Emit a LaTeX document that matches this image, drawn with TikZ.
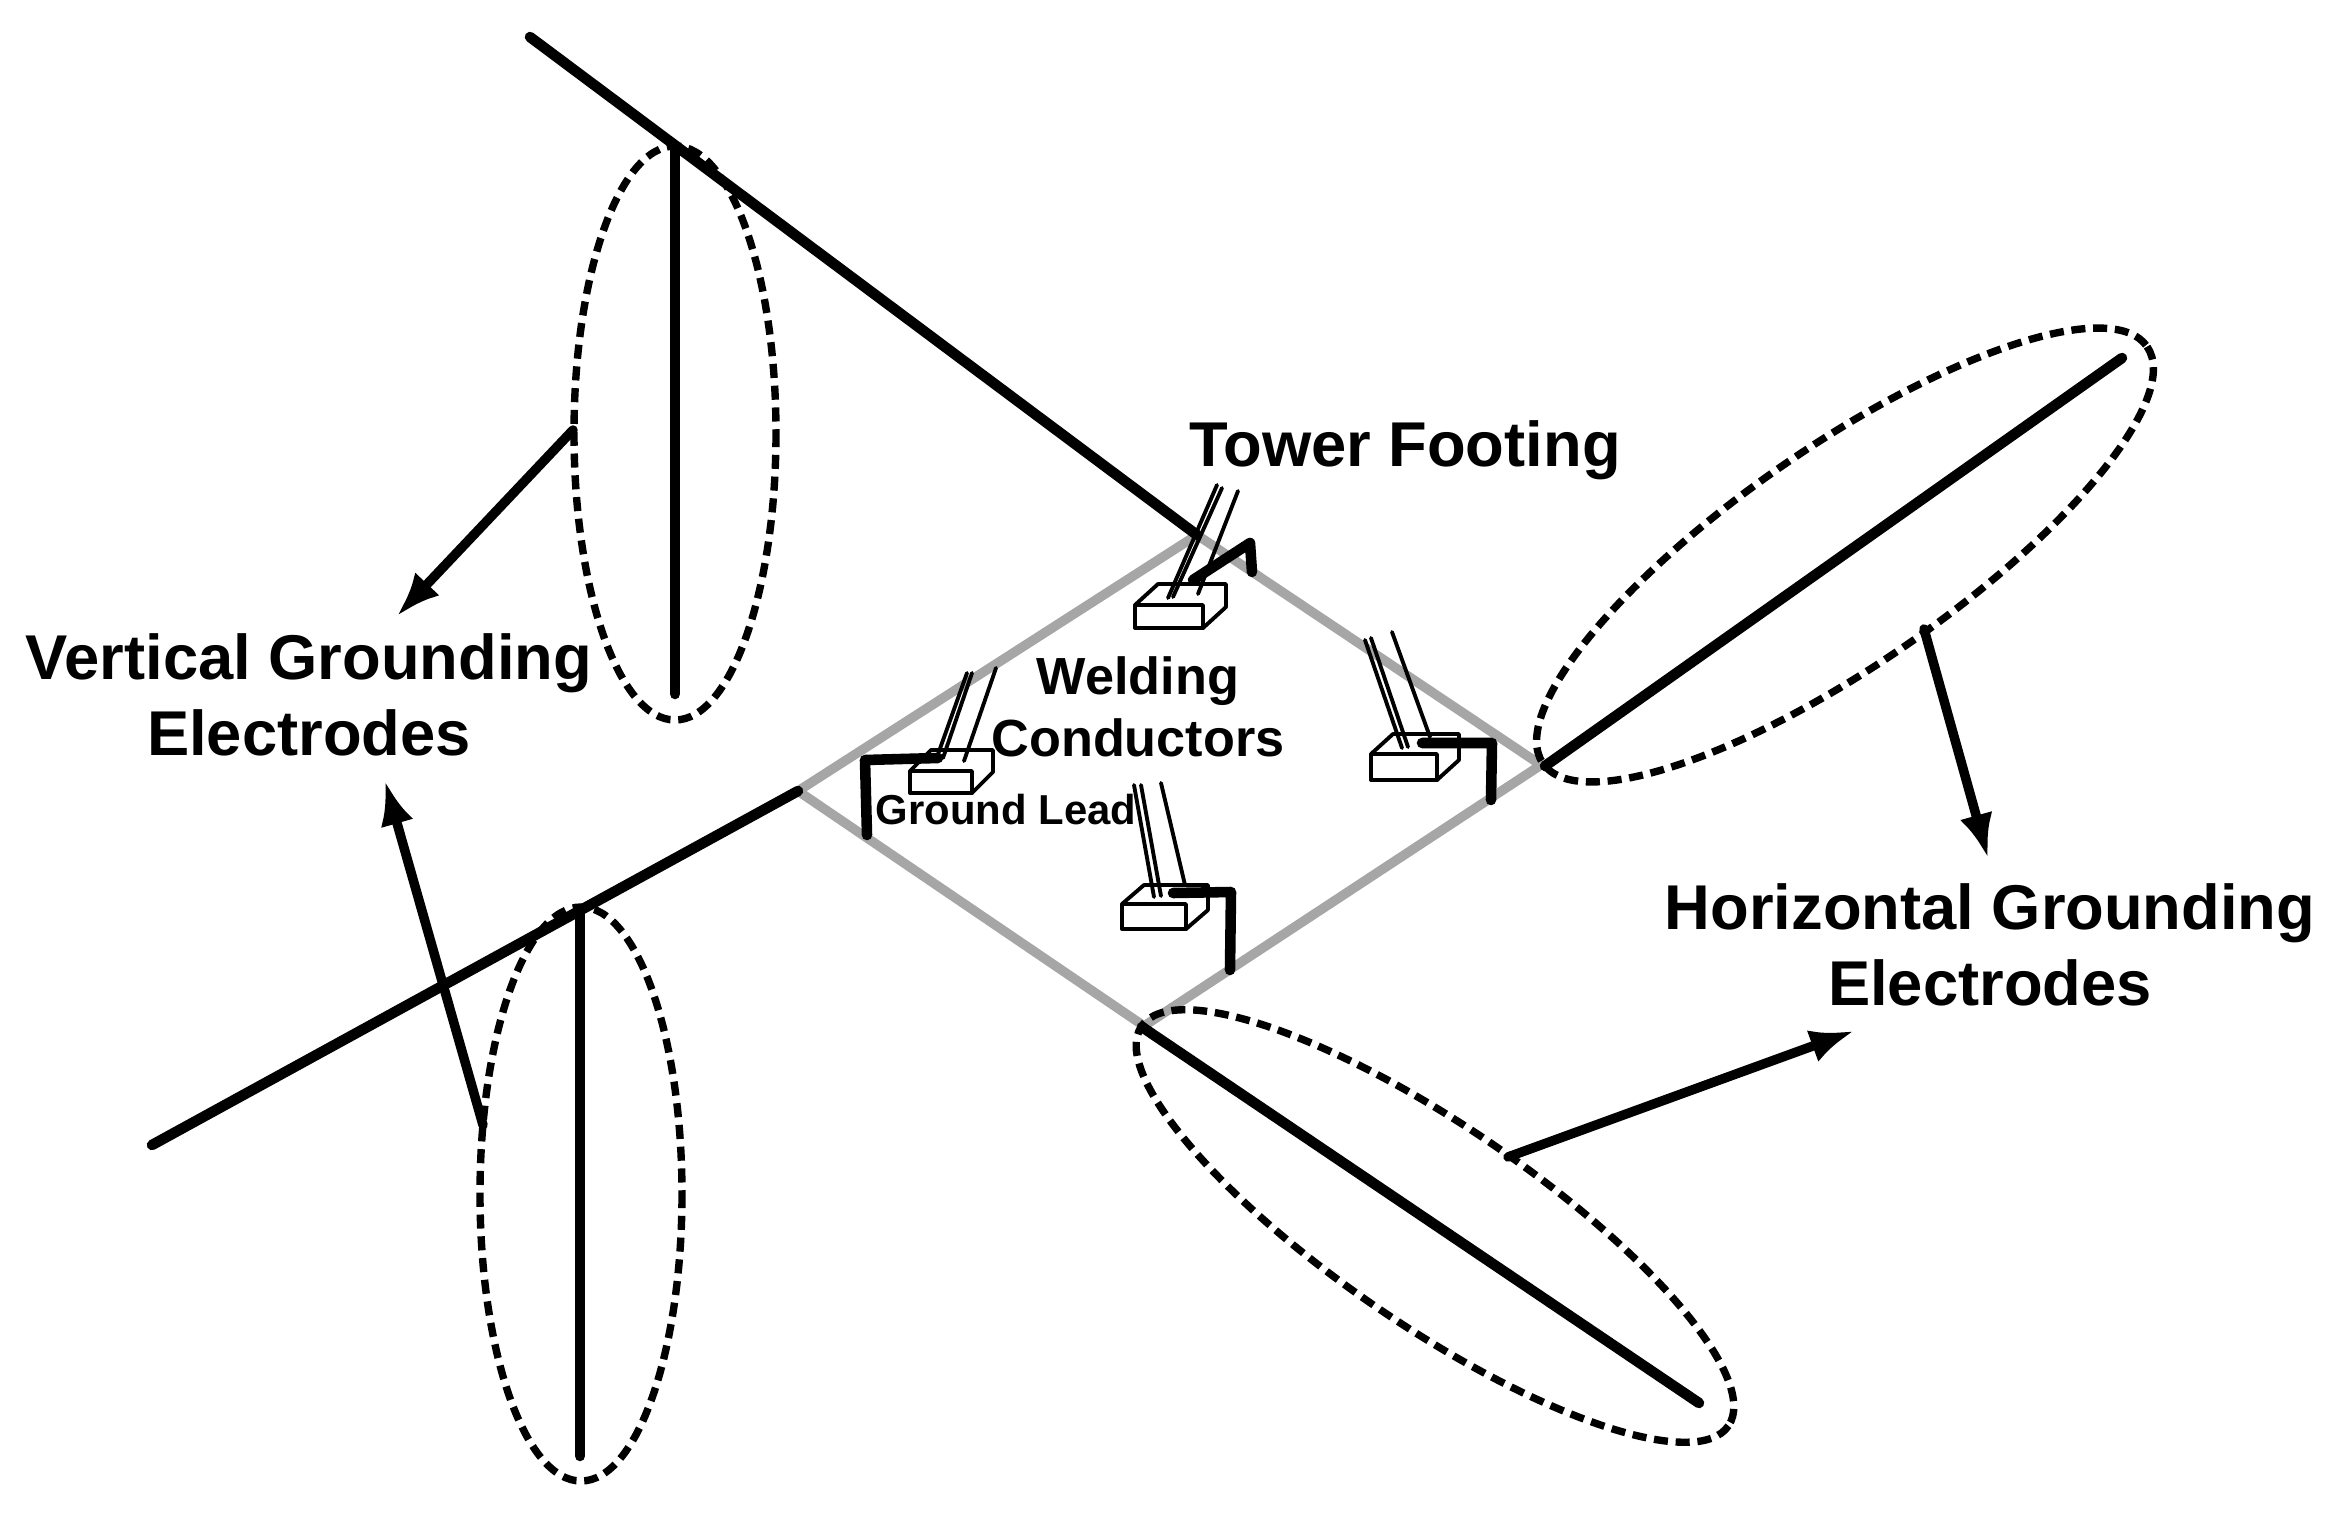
\documentclass[tikz,border=0pt]{standalone}
\usepackage{fontspec}
\setmainfont{Liberation Sans}
\usetikzlibrary{arrows.meta}
\tikzset{
 >={Latex[length=12.5pt,width=9.5pt]},
 electrode/.style={line width=3pt,line cap=round},
 arrowline/.style={->,line width=2.7pt,line cap=round},
 ring/.style={line width=2.1pt,dash pattern=on 4pt off 2.2pt},
 grid/.style={line width=2.7pt,draw=black!35,line cap=round},
 lead/.style={line width=3pt,line cap=round,line join=round},
 wire/.style={line width=1.1pt,line cap=round},
 box/.style={line width=1.1pt,line join=round,fill=white},
 biglabel/.style={shape=rectangle,align=center,font=\fontsize{18}{21.7}\selectfont\bfseries},
 midlabel/.style={shape=rectangle,align=center,font=\fontsize{14.85}{17.5}\selectfont\bfseries},
 smalllabel/.style={shape=rectangle,font=\fontsize{11.9}{14}\selectfont\bfseries}
}
% front corner, front size, offset of the back edge
\newcommand{\footbox}[6]{
 \draw[box] (#1,#2) rectangle +(#3,#4);
 \draw[box] (#1,#2) -- +(#5,#6) -- +(#3+#5,#6) -- +(#3+#5,#6+#4) -- +(#3,#4) -- +(#3,0) -- cycle;
}
\begin{document}
\begin{tikzpicture}[x=0.01cm,y=-0.01cm]
\useasboundingbox (0,0) rectangle (2341,1515);

\path (798,791) coordinate[name=gl];
\path (1197,535) coordinate[name=gt];
\path (1541,765) coordinate[name=gr];
\path (1144,1026) coordinate[name=gb];

\path[grid] (gl) edge (gt);
\path[grid] (gt) edge (gr);
\path[grid] (gr) edge (gb);
\path[grid] (gb) edge (gl);

% horizontal electrodes
\path (530,37) coordinate[name=ht];
\path (152,1145) coordinate[name=hl];
\path (1545,766) coordinate[name=hr0];
\path (2122,358) coordinate[name=hr];
\path (1142,1027) coordinate[name=hb0];
\path (1699,1403) coordinate[name=hb];
\path[electrode] (ht) edge (gt);
\path[electrode] (hl) edge (gl);
\path[electrode] (hr0) edge (hr);
\path[electrode] (hb0) edge (hb);

% vertical electrodes
\path (675,149) coordinate[name=vt0];
\path (675,694) coordinate[name=vt];
\path (580,911) coordinate[name=vb0];
\path (580,1456) coordinate[name=vb];
\path[electrode] (vt0) edge (vt);
\path[electrode] (vb0) edge (vb);

% rings
\draw[ring] (675,433) ellipse [x radius=101,y radius=287];
\draw[ring] (581,1194) ellipse [x radius=101,y radius=287];
\draw[ring,rotate around={34.6:(1845,555)}] (1845,555) ellipse [x radius=367,y radius=109];
\draw[ring,rotate around={-34.25:(1435,1226)}] (1435,1226) ellipse [x radius=355,y radius=100];

% footings
\footbox{1135}{605}{68}{23}{23}{-21}
\footbox{910}{771}{62}{22}{21}{-21}
\footbox{1371}{754}{66}{26}{22}{-20}
\footbox{1122}{904}{64}{25}{22}{-19}

\path (1217,485) coordinate[name=a1];
\path (1168,598) coordinate[name=a2];
\path (1222,488) coordinate[name=a3];
\path (1173,597) coordinate[name=a4];
\path (1238,491) coordinate[name=a5];
\path (1198,594) coordinate[name=a6];
\path[wire] (a1) edge (a2);
\path[wire] (a3) edge (a4);
\path[wire] (a5) edge (a6);

\path (967,673) coordinate[name=b1];
\path (937,757) coordinate[name=b2];
\path (972,673) coordinate[name=b3];
\path (943,758) coordinate[name=b4];
\path (996,668) coordinate[name=b5];
\path (964,761) coordinate[name=b6];
\path[wire] (b1) edge (b2);
\path[wire] (b3) edge (b4);
\path[wire] (b5) edge (b6);

\path (1365,640) coordinate[name=c1];
\path (1402,748) coordinate[name=c2];
\path (1371,638) coordinate[name=c3];
\path (1408,747) coordinate[name=c4];
\path (1392,632) coordinate[name=c5];
\path (1430,737) coordinate[name=c6];
\path[wire] (c1) edge (c2);
\path[wire] (c3) edge (c4);
\path[wire] (c5) edge (c6);

\path (1134,785) coordinate[name=d1];
\path (1154,897) coordinate[name=d2];
\path (1141,785) coordinate[name=d3];
\path (1161,896) coordinate[name=d4];
\path (1161,783) coordinate[name=d5];
\path (1185,885) coordinate[name=d6];
\path[wire] (d1) edge (d2);
\path[wire] (d3) edge (d4);
\path[wire] (d5) edge (d6);

% ground leads
\draw[lead] (1193,580) -- (1250,543) -- (1252,572);
\draw[lead] (938,758) -- (865,760) -- (867,835);
\draw[lead] (1422,743) -- (1492,743) -- (1491,800);
\draw[lead] (1173,893) -- (1231,892) -- (1230,970);

% labels
\path (1405,450) node[biglabel,name=tower] {Tower Footing};
\path (309,695) node[biglabel,name=vert] {Vertical Grounding\\Electrodes};
\path (1990,945) node[biglabel,name=horiz] {Horizontal Grounding\\Electrodes};
\path (1138,707) node[midlabel,name=weld] {Welding\\Conductors};
\path (1006,810) node[smalllabel,name=ground] {Ground Lead};

% arrows
\path (573,430) coordinate[name=p1];
\path (397,616) coordinate[name=q1];
\path (483,1125) coordinate[name=p2];
\path (385,781) coordinate[name=q2];
\path (1924,629) coordinate[name=p3];
\path (1988,858) coordinate[name=q3];
\path (1508,1157) coordinate[name=p4];
\path (1854,1031) coordinate[name=q4];
\path[arrowline] (p1) edge (q1);
\path[arrowline] (p2) edge (q2);
\path[arrowline] (p3) edge (q3);
\path[arrowline] (p4) edge (q4);
\end{tikzpicture}
\end{document}
